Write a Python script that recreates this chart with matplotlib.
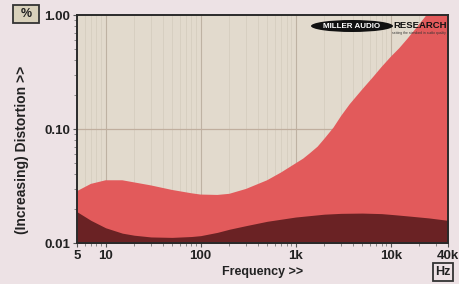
import matplotlib
matplotlib.use("Agg")
import matplotlib.pyplot as plt
from matplotlib.patches import Ellipse, Rectangle
from matplotlib.ticker import FixedLocator, NullFormatter

# Data
freq_upper = [5, 7, 10, 15, 20, 30, 50, 80, 100, 150, 200, 300, 500, 700, 1000,
              1200, 1400, 1700, 2000, 2500, 3000, 3700, 5000, 6500, 8000, 10000,
              12250, 15000, 19000, 23600, 40000]
dist_upper = [0.0285, 0.033, 0.0355, 0.0355, 0.034, 0.0320, 0.0292, 0.0273, 0.0266,
              0.0264, 0.0270, 0.0298, 0.0355, 0.0415, 0.050,
              0.055, 0.061, 0.070, 0.082, 0.103, 0.130, 0.165, 0.222, 0.285, 0.35, 0.43,
              0.51, 0.62, 0.79, 0.99, 1.7]
freq_lower = [5, 7, 10, 15, 20, 30, 50, 80, 100, 150, 200, 300, 500, 1000, 2000,
              3000, 5000, 8000, 11000, 16000, 25000, 40000]
dist_lower = [0.0188, 0.0158, 0.0136, 0.0122, 0.0117, 0.0113, 0.0112, 0.0114, 0.0116,
              0.0124, 0.0132, 0.0142, 0.0155, 0.0169, 0.0179, 0.0182, 0.0183, 0.0181,
              0.0177, 0.0172, 0.0166, 0.0158]

x_ticks = [5, 10, 100, 1000, 10000, 40000]
x_labels = ["5", "10", "100", "1k", "10k", "40k"]
y_ticks = [0.01, 0.1, 1.0]
y_labels = ["0.01", "0.10", "1.00"]

plt.rcParams['font.family'] = ['Liberation Sans', 'DejaVu Sans']

W, H = 459, 284
fig = plt.figure(figsize=(W / 100, H / 100), dpi=100, facecolor="#ede2e5")
ax = fig.add_axes([77 / W, 41 / H, 371 / W, 228 / H])
ax.set_facecolor("#e2dacd")
ax.set_xscale("log")
ax.set_yscale("log")
ax.set_xlim(5, 40000)
ax.set_ylim(0.01, 1.0)

# grid
minor_x = [m * 10**e for e in range(0, 5) for m in range(2, 10) if 5 <= m * 10**e <= 40000]
for xv in minor_x:
    ax.axvline(xv, color="#d6cdbf", lw=0.6, zorder=0.5)
for xv in [10, 100, 1000, 10000]:
    ax.axvline(xv, color="#beb2a3", lw=0.8, zorder=0.6)
ax.axhline(0.1, color="#c0ae9e", lw=0.9, zorder=0.6)

ax.fill_between(freq_upper, 0.001, dist_upper, color="#e25a5b", lw=0, zorder=2)
ax.fill_between(freq_lower, 0.001, dist_lower, color="#6a2224", lw=0, zorder=3)

for s in ax.spines.values():
    s.set_color("#2a2a2a")
    s.set_linewidth(1.4)
    s.set_zorder(5)

ax.xaxis.set_major_locator(FixedLocator(x_ticks))
ax.set_xticklabels(x_labels)
ax.xaxis.set_minor_locator(FixedLocator(minor_x))
ax.xaxis.set_minor_formatter(NullFormatter())
ax.yaxis.set_major_locator(FixedLocator(y_ticks))
ax.set_yticklabels(y_labels)
minor_y = [m * 10**e for e in (-2, -1) for m in range(2, 10)]
ax.yaxis.set_minor_locator(FixedLocator(minor_y))
ax.yaxis.set_minor_formatter(NullFormatter())
ax.tick_params(axis="both", which="major", length=3, width=0.8, color="#555555",
               labelsize=9.5, pad=2)
ax.tick_params(axis="both", which="minor", length=2, width=0.6, color="#777777")
for lbl in ax.get_xticklabels() + ax.get_yticklabels():
    lbl.set_fontweight("bold")
    lbl.set_color("#222222")

ax.set_xlabel("Frequency >>", fontsize=9, fontweight="bold", color="#222222", labelpad=3)
fig.text(22 / W, 1 - 150 / H, "(Increasing) Distortion >>", rotation=90, ha="center",
         va="center", fontsize=10, fontweight="bold", color="#222222")

# unit boxes
fig.patches.append(Rectangle((13 / W, 1 - 23 / H), 26 / W, 18 / H, transform=fig.transFigure,
                             facecolor="#d9d1bb", edgecolor="#333333", lw=1.3))
fig.text(26 / W, 1 - 14 / H, "%", ha="center", va="center", fontsize=9, fontweight="bold",
         color="#222222")
fig.patches.append(Rectangle((433 / W, 1 - 281 / H), 20 / W, 18 / H, transform=fig.transFigure,
                             facecolor="#ede2e5", edgecolor="#333333", lw=1.3))
fig.text(443 / W, 1 - 272 / H, "Hz", ha="center", va="center", fontsize=9, fontweight="bold",
         color="#222222")

# logo
cy = (243 - 26) / 228
ell = Ellipse(((352 - 77) / 371, cy), 82 / 371, 12 / 228,
              transform=ax.transAxes, facecolor="#111111", edgecolor="none", zorder=6)
ax.add_patch(ell)
ax.text((352 - 77) / 371, cy, "MILLER AUDIO", transform=ax.transAxes,
        ha="center", va="center", fontsize=5.8, fontweight="bold", color="white", zorder=7)
ax.text((393 - 77) / 371, cy, "RESEARCH", transform=ax.transAxes,
        ha="left", va="center", fontsize=6.8, fontweight="bold", color="#111111", zorder=7)
ax.text((446 - 77) / 371, (243 - 33) / 228, "setting the standard in audio quality",
        transform=ax.transAxes, ha="right", va="center", fontsize=2.4,
        color="#333333", zorder=7)

fig.savefig("out.png", dpi=100, facecolor=fig.get_facecolor())
